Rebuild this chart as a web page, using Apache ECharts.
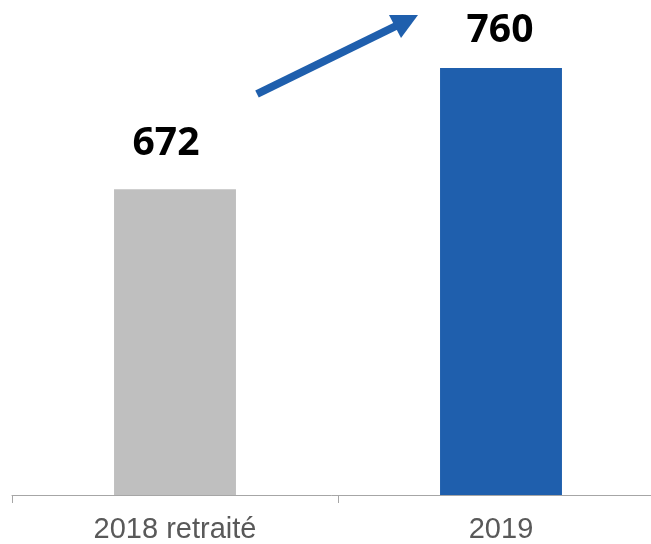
<!DOCTYPE html>
<html>
<head>
<meta charset="utf-8">
<script src="https://cdn.jsdelivr.net/npm/echarts@6/dist/echarts.min.js"></script>
<style>
html, body { margin: 0; padding: 0; background: #fff; }
#chart { width: 651px; height: 544px; }
</style>
</head>
<body>
<div id="chart"></div>
<script>
const categories = ['2018 retraité', '2019'];
const values = [672, 760];
const barColors = ['#BFBFBF', '#1F5FAD'];

const chart = echarts.init(document.getElementById('chart'));

// label nudges per bar (the source deck placed them by hand)
const labelDistance = [26, 18];
const labelOffset = [[-9, 0], [-1, 0]];

const option = {
    animation: false,
    grid: {
        left: 12, width: 652, top: 13, bottom: 49,
        containLabel: false,
        outerBoundsMode: 'none'
    },
    xAxis: {
        type: 'category',
        data: categories,
        axisLine: { lineStyle: { color: '#A6A6A6', width: 1 } },
        axisTick: { show: true, length: 8, lineStyle: { color: '#A6A6A6' } },
        axisLabel: {
            color: '#595959',
            fontFamily: 'Liberation Sans, Arial',
            fontSize: 29,
            margin: 20
        }
    },
    yAxis: {
        type: 'value',
        min: 450,
        max: 800,
        show: false,
        splitLine: { show: false }
    },
    series: [{
        type: 'bar',
        barWidth: '37.4%',
        data: values.map(function(v, i) {
            return {
                value: v,
                itemStyle: { color: barColors[i] },
                label: { distance: labelDistance[i], offset: labelOffset[i] }
            };
        }),
        label: {
            show: true,
            position: 'top',
            color: '#000',
            fontFamily: 'Open Sans, Noto Sans, sans-serif',
            fontWeight: 'bold',
            fontSize: 39
        }
    }],
    graphic: [
        {
            type: 'line',
            shape: { x1: 257, y1: 94, x2: 398, y2: 25 },
            style: { stroke: '#1F5FAD', lineWidth: 8 }
        },
        {
            type: 'polygon',
            shape: { points: [[389, 15], [418, 15], [401, 38]] },
            style: { fill: '#1F5FAD' }
        }
    ]
};

chart.setOption(option);
</script>
</body>
</html>
